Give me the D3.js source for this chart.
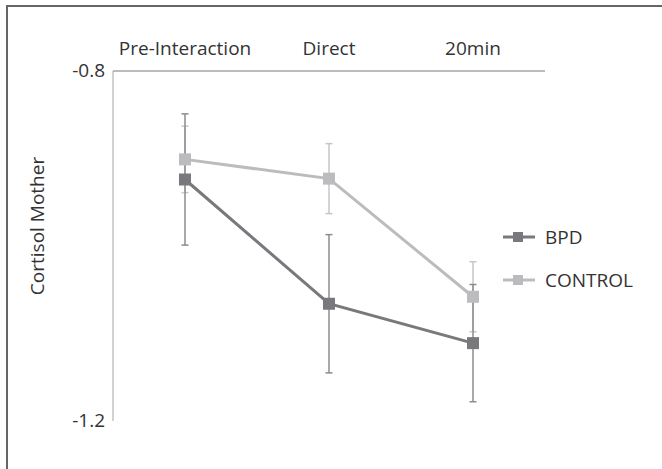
<!DOCTYPE html>
<html><head><meta charset="utf-8">
<script src="https://cdn.jsdelivr.net/npm/d3@7"></script>
<style>body{margin:0;background:#fff}svg{display:block}</style>
</head><body>
<script>
const categories = ["Pre-Interaction", "Direct", "20min"];
const seriesNames = ["BPD", "CONTROL"];
const bpdValues = [-0.924, -1.066, -1.111];
const bpdErrors = [0.075, 0.079, 0.067];
const controlValues = [-0.901, -0.923, -1.058];
const controlErrors = [0.038, 0.040, 0.040];
const yTicks = [-0.8, -1.2];

(function(){
const W = 662, H = 469;
const svg = d3.select("body").append("svg").attr("width", W).attr("height", H);
const font = "'Open Sans', 'Noto Sans', sans-serif";
const fs = 19;

svg.append("path").attr("d", `M7,${H} V6 H${W}`).attr("fill","none").attr("stroke","#666").attr("stroke-width",2);

const mLeft = 113, mRight = 545, mTop = 71, mBottom = 421;
const x = d3.scalePoint().domain(categories).range([mLeft, mRight]).padding(0.5);
const y = d3.scaleLinear().domain([-1.2, -0.8]).range([mBottom, mTop]);

svg.append("line").attr("x1", mLeft).attr("x2", mLeft).attr("y1", mTop).attr("y2", mBottom).attr("stroke","#a6a6a6").attr("stroke-width",1);
svg.append("line").attr("x1", mLeft).attr("x2", mRight).attr("y1", mTop).attr("y2", mTop).attr("stroke","#a6a6a6").attr("stroke-width",1.5);

svg.selectAll(".ytick").data(yTicks).join("text")
  .attr("x", mLeft - 8).attr("y", d => y(d) - 1).attr("dy", "0.35em")
  .attr("text-anchor","end").attr("font-family", font).attr("font-size", fs).attr("fill","#333")
  .text(d => d3.format(".1f")(d).replace("−","-"));

svg.selectAll(".xlab").data(categories).join("text")
  .attr("x", d => x(d)).attr("y", mTop - 16)
  .attr("text-anchor","middle").attr("font-family", font).attr("font-size", fs).attr("fill","#333")
  .text(d => d);

svg.append("text").attr("transform", `translate(44,226) rotate(-90)`)
  .attr("text-anchor","middle").attr("font-family", font).attr("font-size", fs).attr("fill","#333")
  .text("Cortisol Mother");

const series = [
  {name: seriesNames[0], values: bpdValues, errors: bpdErrors, color: "#78787d", err: "#8c8c8f"},
  {name: seriesNames[1], values: controlValues, errors: controlErrors, color: "#bcbcbf", err: "#c6c6c8"}
];

series.slice().reverse().forEach(s => {
  const g = svg.append("g").attr("stroke", s.err).attr("stroke-width", 1.5);
  categories.forEach((c, i) => {
    const cx = x(c), y1 = y(s.values[i] + s.errors[i]), y2 = y(s.values[i] - s.errors[i]);
    g.append("line").attr("x1", cx).attr("x2", cx).attr("y1", y1).attr("y2", y2);
    g.append("line").attr("x1", cx-3.5).attr("x2", cx+3.5).attr("y1", y1).attr("y2", y1);
    g.append("line").attr("x1", cx-3.5).attr("x2", cx+3.5).attr("y1", y2).attr("y2", y2);
  });
});

const line = d3.line().x((d,i) => x(categories[i])).y(d => y(d));
series.forEach(s => {
  svg.append("path").datum(s.values).attr("d", line).attr("fill","none")
    .attr("stroke", s.color).attr("stroke-width", 3);
  svg.append("g").selectAll("rect").data(s.values).join("rect")
    .attr("x", (d,i) => x(categories[i]) - 6).attr("y", d => y(d) - 6)
    .attr("width", 12).attr("height", 12).attr("fill", s.color);
});

series.forEach((s, i) => {
  const ly = 237 + i * 43;
  svg.append("line").attr("x1", 503).attr("x2", 535).attr("y1", ly).attr("y2", ly)
    .attr("stroke", s.color).attr("stroke-width", 3);
  svg.append("rect").attr("x", 513).attr("y", ly - 5).attr("width", 10).attr("height", 10).attr("fill", s.color);
  svg.append("text").attr("x", 545).attr("y", ly).attr("dy","0.35em")
    .attr("font-family", font).attr("font-size", fs).attr("fill","#333").text(s.name);
});
})();
</script>
</body></html>
